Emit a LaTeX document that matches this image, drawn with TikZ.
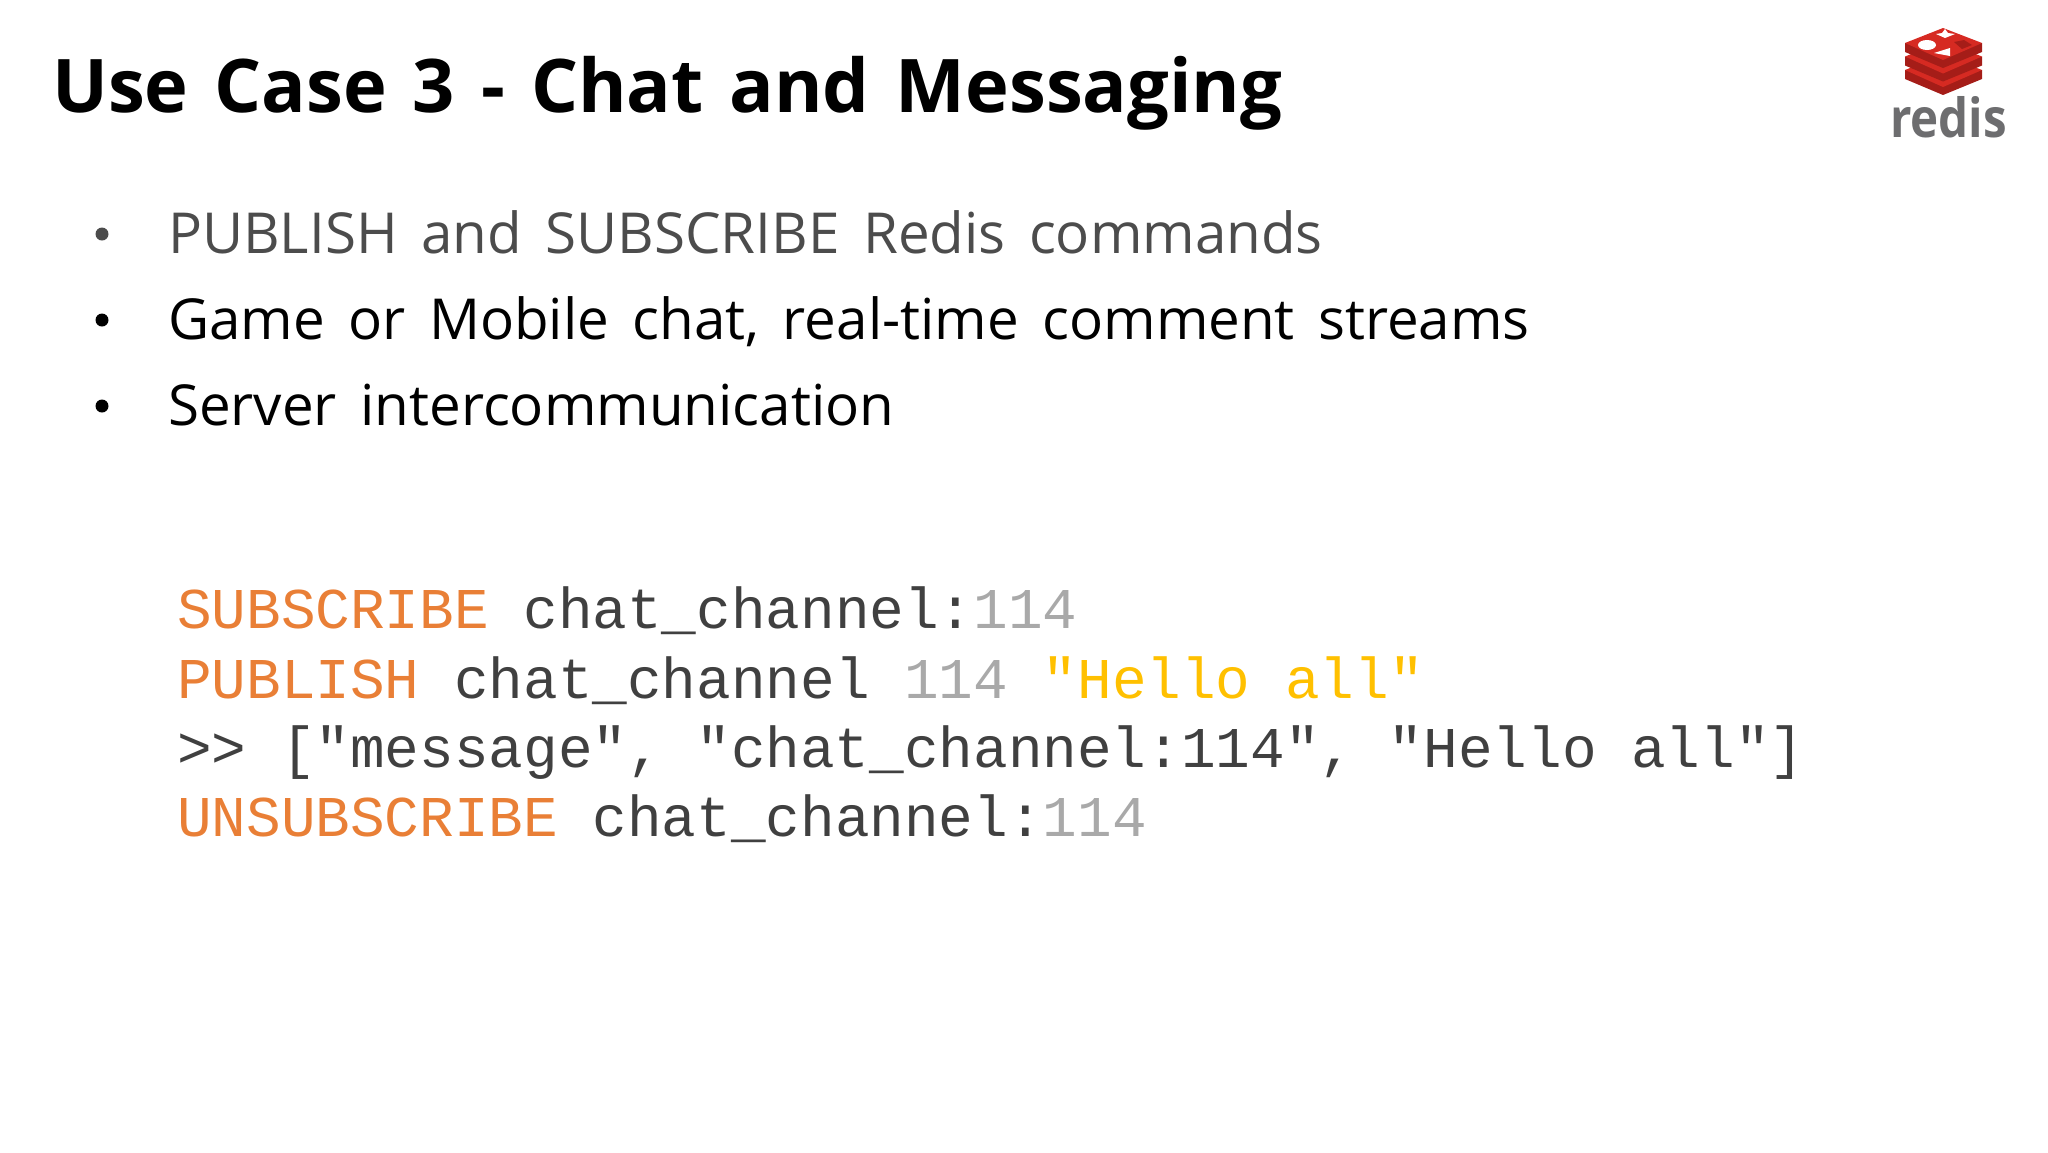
\documentclass[tikz,border=0pt]{standalone}
\usepackage{fontspec}
\setmainfont{Open Sans}
\setmonofont{Liberation Mono}
\definecolor{kwcolor}{HTML}{E97F36}
\definecolor{numcolor}{HTML}{A9A9A9}
\definecolor{strcolor}{HTML}{FFC000}
\definecolor{codecolor}{HTML}{404040}
\definecolor{redisred}{HTML}{D62A22}
\definecolor{redisdark}{HTML}{A51D18}
\definecolor{redisgray}{HTML}{6D6D6F}
\newcommand{\titlewords}{\setlength{\spaceskip}{26pt}}
\newcommand{\itemwords}{\setlength{\spaceskip}{23.5pt}}
\begin{document}
\begin{tikzpicture}[x=1pt, y=-1pt,
    title/.style={anchor=base west, inner sep=0pt, font=\fontsize{74}{74}\selectfont\bfseries},
    bullet/.style={anchor=base west, inner sep=0pt, font=\fontsize{56.5}{57}\selectfont},
    dot/.style={circle, fill=black, inner sep=0pt, minimum size=13pt},
    code/.style={anchor=base west, inner sep=0pt, text=codecolor, font=\fontsize{57.7}{58}\selectfont\ttfamily}]

  \useasboundingbox (0,0) rectangle (2048,1152);

  \node[title] (heading) at (52,112) {\titlewords Use Case 3 - Chat and Messaging};

  \node[dot,fill=black!70] (dot1) at (102,234) {};
  \node[dot] (dot2) at (102,320) {};
  \node[dot] (dot3) at (102,406) {};
  \node[bullet,text=black!70] (item1) at (168,253) {\itemwords PUBLISH and SUBSCRIBE Redis commands};
  \node[bullet] (item2) at (168,339) {\itemwords Game or Mobile chat, real-time comment streams};
  \node[bullet] (item3) at (168,425) {\itemwords Server intercommunication};

  \node[code] (line1) at (177,628) {\textcolor{kwcolor}{SUBSCRIBE} chat\_channel:\textcolor{numcolor}{114}};
  \node[code] (line2) at (177,698) {\textcolor{kwcolor}{PUBLISH} chat\_channel \textcolor{numcolor}{114} \textcolor{strcolor}{"Hello all"}};
  \node[code] (line3) at (177,767) {>{}> ["message", "chat\_channel:114", "Hello all"]};
  \node[code] (line4) at (177,836) {\textcolor{kwcolor}{UNSUBSCRIBE} chat\_channel:\textcolor{numcolor}{114}};

  % logo
  \foreach \dy in {27,13.5,0} {
    \fill[redisdark,shift={(0,\dy)}] (1905,43) -- (1905,52) -- (1943,68) -- (1982,52) -- (1982,43) -- cycle;
    \fill[redisred,shift={(0,\dy)}] (1905,43) -- (1943,28) -- (1982,43) -- (1943,60) -- cycle;
  }
  \fill[white] (1927,45) ellipse (9 and 5);
  \fill[white] (1945,38) -- (1936,34) -- (1942,33) -- (1945,29) -- (1948,33) -- (1955,34) -- cycle;
  \fill[white] (1934,53) -- (1950,48) -- (1950,56) -- cycle;
  \fill[redisdark] (1954,42) -- (1964,40) -- (1972,45) -- (1962,49) -- cycle;
  \node[anchor=base west, inner sep=0pt, xscale=.88, text=redisgray, font=\fontsize{54}{54}\selectfont\bfseries] (logotext) at (1890,137) {redis};
\end{tikzpicture}
\end{document}
